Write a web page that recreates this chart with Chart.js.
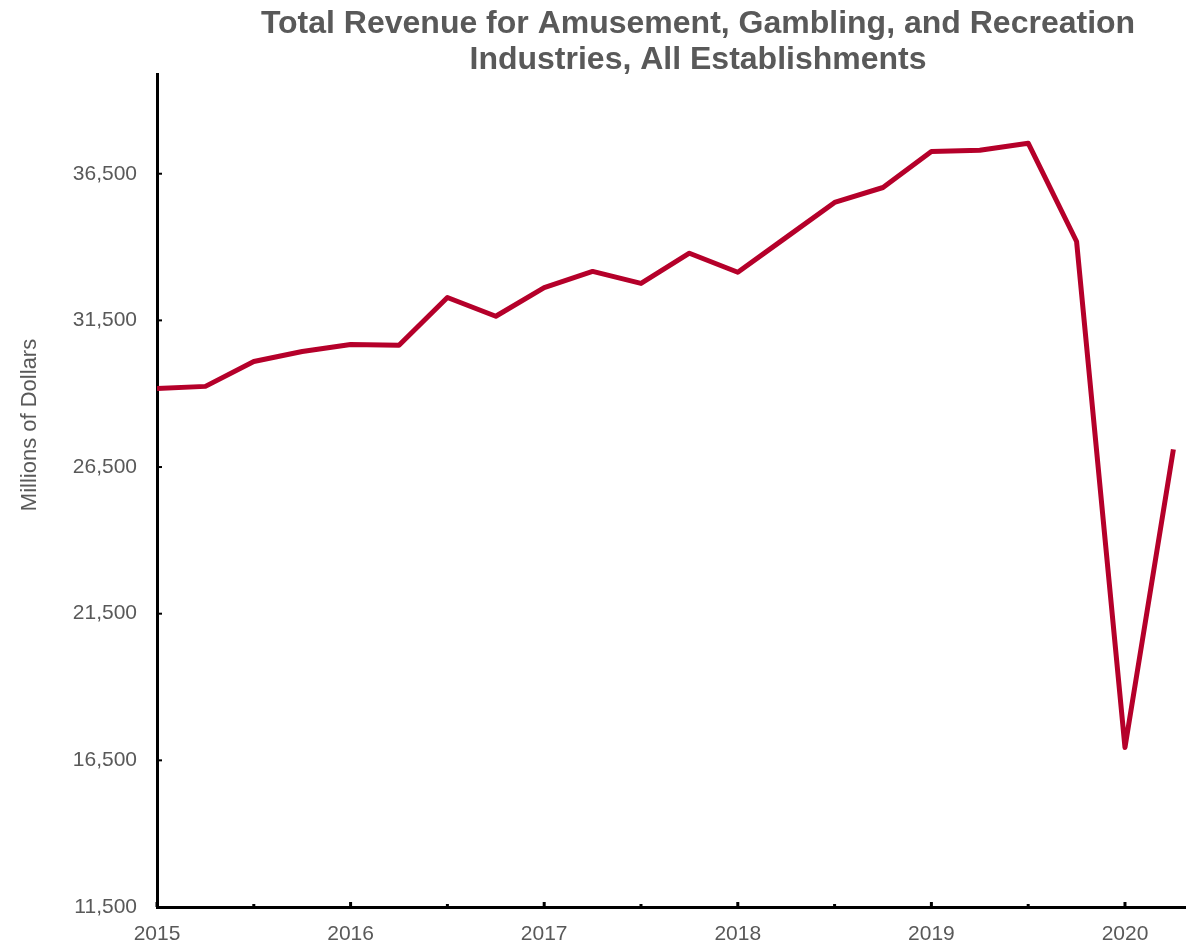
<!DOCTYPE html>
<html>
<head>
<meta charset="utf-8">
<script src="https://cdn.jsdelivr.net/npm/chart.js@4"></script>
<style>
  html, body { margin: 0; padding: 0; background: #fff; }
  #wrap { width: 1186px; height: 945px; }
</style>
</head>
<body>
<div id="wrap"><canvas id="revenueChart" width="1186" height="945"></canvas></div>
<script>
// quarterly periods, as fractional years (2015 Q1 .. 2020 Q2)
const quarters = [
  2015, 2015.25, 2015.5, 2015.75,
  2016, 2016.25, 2016.5, 2016.75,
  2017, 2017.25, 2017.5, 2017.75,
  2018, 2018.25, 2018.5, 2018.75,
  2019, 2019.25, 2019.5, 2019.75,
  2020, 2020.25
];

// total revenue, millions of dollars
const revenue = [
  29180, 29250, 30100, 30440,
  30680, 30650, 32280, 31640,
  32620, 33170, 32760, 33790,
  33140, 34330, 35520, 36030,
  37260, 37300, 37540, 34190,
  16940, 27100
];

const xTicks = [2015, 2015.5, 2016, 2016.5, 2017, 2017.5, 2018, 2018.5, 2019, 2019.5, 2020];
const yTicks = [11500, 16500, 21500, 26500, 31500, 36500];
const titleLines = ['Total Revenue for Amusement, Gambling, and Recreation', 'Industries, All Establishments'];
const yTitle = 'Millions of Dollars';

const grey = '#595959';
const font = 'Liberation Sans, Arial, sans-serif';

// inward tick marks, title and axis title
const decorations = {
  id: 'decorations',
  afterDraw(chart) {
    const ctx = chart.ctx;
    const x = chart.scales.x, y = chart.scales.y;
    const area = chart.chartArea;
    ctx.save();
    ctx.strokeStyle = '#000';
    ctx.lineWidth = 3;
    x.ticks.forEach(t => {
      const px = x.getPixelForValue(t.value);
      const len = Number.isInteger(t.value) ? 5 : 3;
      ctx.beginPath();
      ctx.moveTo(px, area.bottom);
      ctx.lineTo(px, area.bottom - len);
      ctx.stroke();
    });
    ctx.lineWidth = 2;
    y.ticks.forEach(t => {
      const py = y.getPixelForValue(t.value);
      ctx.beginPath();
      ctx.moveTo(area.left, py);
      ctx.lineTo(area.left + 5, py);
      ctx.stroke();
    });

    ctx.fillStyle = grey;
    ctx.textAlign = 'center';
    ctx.textBaseline = 'middle';
    ctx.font = 'bold 32px ' + font;
    ctx.fillText(titleLines[0], 698, 24);
    ctx.fillText(titleLines[1], 698, 60);

    ctx.font = '22px ' + font;
    ctx.translate(30, 425);
    ctx.rotate(-Math.PI / 2);
    ctx.fillText(yTitle, 0, 0);
    ctx.restore();
  }
};

new Chart(document.getElementById('revenueChart'), {
  type: 'line',
  data: {
    datasets: [{
      label: 'Total Revenue',
      data: quarters.map((q, i) => ({ x: q, y: revenue[i] })),
      borderColor: '#B5002A',
      borderWidth: 5,
      borderJoinStyle: 'round',
      pointRadius: 0,
      tension: 0,
      fill: false
    }]
  },
  options: {
    responsive: false,
    animation: false,
    layout: { padding: { top: 74, right: 1, left: 0, bottom: 0 } },
    plugins: {
      legend: { display: false },
      title: { display: false },
      tooltip: { enabled: false }
    },
    scales: {
      x: {
        type: 'linear',
        min: 2015,
        max: 2020.31,
        afterBuildTicks: s => {
          s.ticks = xTicks.map(v => ({ value: v }));
        },
        afterFit: s => { s.height = 38; },
        grid: { display: false, drawTicks: false },
        border: { display: true, color: '#000', width: 3 },
        ticks: {
          autoSkip: false,
          maxRotation: 0,
          padding: 15,
          color: grey,
          font: { family: font, size: 21 },
          callback: v => Number.isInteger(v) ? String(v) : ''
        }
      },
      y: {
        min: 11500,
        max: 39900,
        afterBuildTicks: s => {
          s.ticks = yTicks.map(v => ({ value: v }));
        },
        afterFit: s => { s.width = 157; },
        grid: { display: false, drawTicks: false },
        border: { display: true, color: '#000', width: 3 },
        ticks: {
          padding: 20,
          color: grey,
          font: { family: font, size: 21 },
          callback: v => v.toLocaleString('en-US')
        }
      }
    }
  },
  plugins: [decorations]
});
</script>
</body>
</html>
